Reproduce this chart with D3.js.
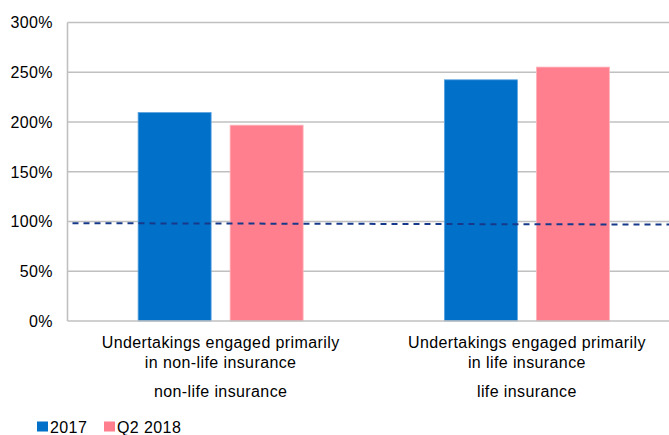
<!DOCTYPE html>
<html>
<head>
<meta charset="utf-8">
<script src="https://cdn.jsdelivr.net/npm/d3@7"></script>
<style>
	body { margin: 0; background: #fff; }
	svg text { font-family: "Liberation Sans", Arial, sans-serif; fill: #000; letter-spacing: 0.4px; }
</style>
</head>
<body>
<div id="chart"></div>
<script>
// data
const categories = [
	["Undertakings engaged primarily", "in non-life insurance", "non-life insurance"],
	["Undertakings engaged primarily", "in life insurance", "life insurance"]
];
const seriesNames = ["2017", "Q2 2018"];
const values2017 = [209.5, 242.4];
const valuesQ22018 = [196.8, 255.2];
const thresholdLine = [98.3, 96.9]; // dashed line, left end / right end
const yTicks = [0, 50, 100, 150, 200, 250, 300];
const colors = ["#0070c8", "#ff7f8e"];
const strokes = ["#5aa2e0", "#ffb3bb"];

const width = 669, height = 435;
const m = {left: 67.5, right: -11, top: 22.5, bottom: 114};

const svg = d3.select('#chart').append('svg')
	.attr('width', width)
	.attr('height', height);

const x0 = d3.scaleBand()
	.domain(d3.range(categories.length))
	.range([m.left, width - m.right]);

const groupW = 165;
const x1 = d3.scaleBand()
	.domain(seriesNames)
	.range([0, groupW])
	.paddingInner(19 / 92);

const y = d3.scaleLinear()
	.domain([0, 300])
	.range([height - m.bottom, m.top]);

//gridlines
svg.append('g')
	.selectAll('line')
	.data(yTicks.filter(d => d > 0))
	.join('line')
		.attr('x1', m.left)
		.attr('x2', width)
		.attr('y1', d => y(d))
		.attr('y2', d => y(d))
		.style('stroke', '#c0c0c0')
		.style('stroke-width', 1.6);

//y axis labels
svg.append('g')
	.selectAll('text')
	.data(yTicks)
	.join('text')
		.attr('x', 53)
		.attr('y', d => y(d))
		.attr('dy', '0.36em')
		.attr('text-anchor', 'end')
		.style('font-size', '16px')
		.text(d => d + '%');

//bars
const rows = categories.map((c, i) => ({i: i, vals: [values2017[i], valuesQ22018[i]]}));
const groups = svg.append('g')
	.selectAll('g')
	.data(rows)
	.join('g')
		.attr('transform', d => 'translate(' + (x0(d.i) + (x0.bandwidth() - groupW) / 2) + ',0)');

groups.selectAll('rect')
	.data(d => d.vals.map((v, k) => ({key: seriesNames[k], k: k, v: v})))
	.join('rect')
		.attr('x', d => x1(d.key))
		.attr('width', x1.bandwidth())
		.attr('y', d => y(d.v))
		.attr('height', d => y(0) - y(d.v))
		.style('fill', d => colors[d.k])
		.style('stroke', d => strokes[d.k])
		.style('stroke-width', 0.8);

//axis lines
svg.append('line')
	.attr('x1', m.left).attr('x2', m.left)
	.attr('y1', y(300)).attr('y2', y(0))
	.style('stroke', '#c0c0c0').style('stroke-width', 1.6);
svg.append('line')
	.attr('x1', m.left).attr('x2', width)
	.attr('y1', y(0)).attr('y2', y(0))
	.style('stroke', '#c0c0c0').style('stroke-width', 1.6);

//dashed threshold line
const xt = d3.scaleLinear()
	.domain([0, thresholdLine.length - 1])
	.range([m.left + 5, width - m.right]);
svg.append('path')
	.datum(thresholdLine)
	.attr('d', d3.line().x((d, i) => xt(i)).y(d => y(d)))
	.style('fill', 'none')
	.style('stroke', '#17398a')
	.style('stroke-width', 2)
	.style('stroke-dasharray', '6,5');

//category labels
const catLabels = svg.append('g')
	.selectAll('g')
	.data(categories)
	.join('g')
		.attr('transform', (d, i) => 'translate(' + (x0(i) + x0.bandwidth() / 2) + ',0)');
const lineY = [348, 367.5, 397];
catLabels.selectAll('text')
	.data(d => d)
	.join('text')
		.attr('y', (d, i) => lineY[i])
		.attr('text-anchor', 'middle')
		.style('font-size', '16px')
		.text(d => d);

//legend
const legend = svg.append('g')
	.selectAll('g')
	.data(seriesNames)
	.join('g')
		.attr('transform', (d, i) => 'translate(' + [37, 104][i] + ',0)');
legend.append('rect')
	.attr('y', 421.5)
	.attr('width', 11)
	.attr('height', 10)
	.style('fill', (d, i) => colors[i]);
legend.append('text')
	.attr('x', 13)
	.attr('y', 432.5)
	.style('font-size', '16px')
	.text(d => d);
</script>
</body>
</html>
